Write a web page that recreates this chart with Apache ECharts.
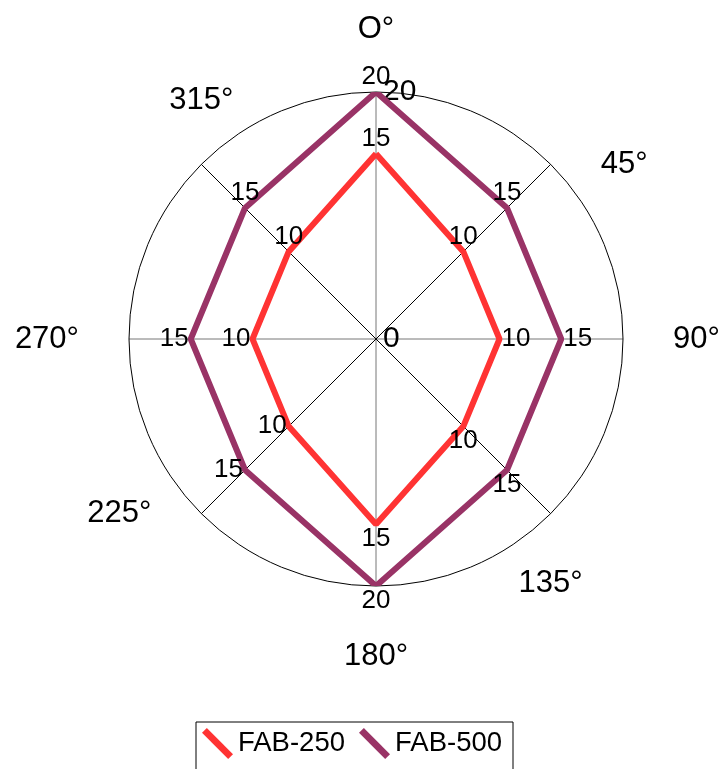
<!DOCTYPE html>
<html>
<head>
<meta charset="utf-8">
<script src="https://cdn.jsdelivr.net/npm/echarts@6/dist/echarts.min.js"></script>
<style>html,body{margin:0;padding:0;background:#fff}#chart{width:721px;height:769px}</style>
</head>
<body>
<div id="chart"></div>
<script>
var angles = [0, 45, 90, 135, 180, 225, 270, 315];
var angleLabels = ['O°', '45°', '90°', '135°', '180°', '225°', '270°', '315°'];
var fab250 = [15, 10, 10, 10, 15, 10, 10, 10];
var fab500 = [20, 15, 15, 15, 20, 15, 15, 15];
var radiusTicks = [0, 20];

// where each value label / direction label sits around its point
var labelPos = ['top', 'top', 'right', 'bottom', 'bottom', 'left', 'left', 'top'];
var dirPos = ['top', 'right', 'right', 'bottom', 'bottom', 'left', 'left', 'top'];
var dirGap = [47, 50, 50, 54, 55, 50, 50, 48];
var font = 'Liberation Sans, Arial, sans-serif';

function ring(vals){
	var d = vals.map(function(v, i){
		return {value: [v, angles[i]], label: {position: labelPos[i]}};
	});
	// close the loop back to 0°
	d.push({value: [vals[0], 360], label: {show: false}});
	return d;
}

var el = echarts.init(document.getElementById('chart'));
var opt = {
	animation: false,
	polar: {center: [376, 339], radius: 247},
	angleAxis: {
		type: 'value', min: 0, max: 360, interval: 45,
		startAngle: 90, clockwise: true,
		axisLine: {show: true, lineStyle: {color: '#000', width: 1}},
		axisTick: {show: false},
		axisLabel: {show: false},
		splitLine: {show: true, lineStyle: {color: ['#777', '#000'], width: 1}}
	},
	radiusAxis: {
		type: 'value', min: radiusTicks[0], max: radiusTicks[1], interval: radiusTicks[1] - radiusTicks[0],
		axisLine: {show: false},
		axisTick: {show: false},
		splitLine: {show: false},
		axisLabel: {show: true, margin: -7, align: 'left', color: '#000', fontSize: 30, fontFamily: font}
	},
	legend: {
		data: ['FAB-250', 'FAB-500'],
		left: 196, top: 722,
		padding: [6, 11, 14, 6],
		itemGap: 14,
		itemWidth: 31, itemHeight: 32,
		icon: 'path://M0,5 L5,0 L32,27 L27,32 Z',
		borderColor: '#000', borderWidth: 1,
		selectedMode: false,
		itemStyle: {borderWidth: 0},
		textStyle: {fontSize: 27.5, color: '#000', fontFamily: font}
	},
	series: [
		{
			name: 'FAB-250', type: 'line', coordinateSystem: 'polar',
			color: '#FF3333',
			symbol: 'circle', symbolSize: 0,
			lineStyle: {width: 6, color: '#FF3333'},
			label: {show: true, distance: 2, fontSize: 26, color: '#000', fontFamily: font,
				formatter: function(p){ return p.value[0]; }},
			data: ring(fab250)
		},
		{
			name: 'FAB-500', type: 'line', coordinateSystem: 'polar',
			color: '#993366',
			symbol: 'circle', symbolSize: 0,
			lineStyle: {width: 6, color: '#993366'},
			label: {show: true, distance: 2, fontSize: 26, color: '#000', fontFamily: font,
				formatter: function(p){ return p.value[0]; }},
			data: ring(fab500)
		},
		{
			name: 'dirs', type: 'scatter', coordinateSystem: 'polar',
			symbolSize: 0, silent: true,
			label: {show: true, fontSize: 31, color: '#000', opacity: 1, fontFamily: font,
				formatter: function(p){ return angleLabels[p.dataIndex]; }},
			data: angles.map(function(a, i){
				return {value: [radiusTicks[1], a], label: {position: dirPos[i], distance: dirGap[i]}};
			})
		}
	]
};
el.setOption(opt);
</script>
</body>
</html>
